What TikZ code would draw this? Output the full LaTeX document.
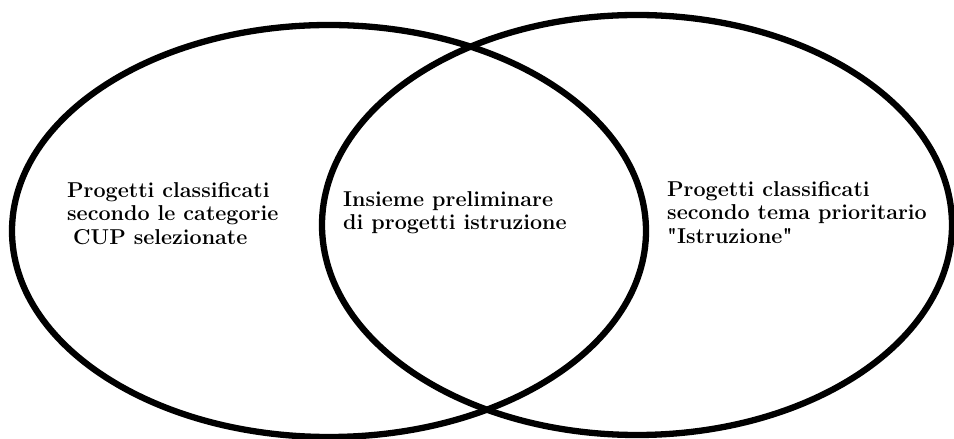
\documentclass[tikz,border=0pt]{standalone}
\begin{document}
\begin{tikzpicture}[x=1pt,y=1pt,
  ring/.style={draw=black,line width=6.3pt},
  lbl/.style={anchor=north west,inner sep=0pt,align=left,
    font=\fontsize{21.5}{23.5}\selectfont\bfseries}]
\useasboundingbox (0,0) rectangle (954,439);
\draw[ring] (329,208) ellipse [x radius=317, y radius=206];
\draw[ring] (637,214) ellipse [x radius=315, y radius=210];
\node[lbl] (left) at (67,257) {Progetti classificati\\secondo le categorie\\\hspace*{6pt}CUP selezionate};
\node[lbl] (mid) at (343,248) {Insieme preliminare\\di progetti istruzione};
\node[lbl] (right) at (667,258) {Progetti classificati\\secondo tema prioritario\\\textquotedbl Istruzione\textquotedbl};
\end{tikzpicture}
\end{document}
